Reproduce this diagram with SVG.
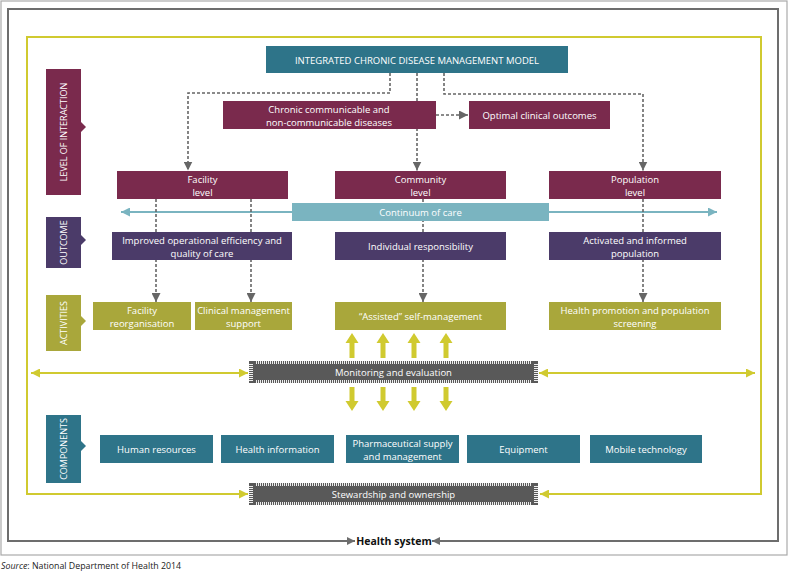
<svg xmlns="http://www.w3.org/2000/svg" width="788" height="572" viewBox="0 0 788 572">
<defs>
<style>
.t{font-family:"Open Sans","Liberation Sans",sans-serif;font-size:9.5px;fill:#fff;text-anchor:middle}
.tt{font-family:"Open Sans","Liberation Sans",sans-serif;font-size:9.5px;fill:#fff;text-anchor:middle}
.vt{font-family:"Open Sans","Liberation Sans",sans-serif;font-size:9px;fill:#fff;text-anchor:middle}
.mar{fill:#7a2a4d}
.pur{fill:#4b3b69}
.oli{fill:#a9a73b}
.tea{fill:#2e7489}
.dash{fill:none;stroke:#666;stroke-width:1.6;stroke-dasharray:3,2}
.yl{fill:none;stroke:#d0ca30;stroke-width:2}
.ya{fill:#d0ca30}
.bar{fill:#595959}
</style>
<marker id="agd" viewBox="0 0 10 10" refX="10" refY="5" markerWidth="9" markerHeight="9" markerUnits="userSpaceOnUse" orient="auto-start-reverse"><path d="M0,0 L10,5 L0,10 Z" fill="#666"/></marker>
<marker id="ac" viewBox="0 0 10 10" refX="10" refY="5" markerWidth="9" markerHeight="9" markerUnits="userSpaceOnUse" orient="auto-start-reverse"><path d="M0,0 L10,5 L0,10 Z" fill="#7ab4c0"/></marker>
<marker id="ay" viewBox="0 0 10 10" refX="10" refY="5" markerWidth="9" markerHeight="9" markerUnits="userSpaceOnUse" orient="auto-start-reverse"><path d="M0,0 L10,5 L0,10 Z" fill="#d0ca30"/></marker>
<marker id="ah" viewBox="0 0 10 10" refX="10" refY="5" markerWidth="8" markerHeight="8" markerUnits="userSpaceOnUse" orient="auto-start-reverse"><path d="M0,0 L10,5 L0,10 Z" fill="#6d6d6d"/></marker>
<pattern id="vtk" x="0" y="0" width="2" height="4" patternUnits="userSpaceOnUse"><rect x="0" y="0" width="1" height="4" fill="#eee"/></pattern>
<pattern id="htk" x="0" y="0" width="4" height="2" patternUnits="userSpaceOnUse"><rect x="0" y="0" width="4" height="1" fill="#eee"/></pattern>
</defs>
<rect x="0" y="0" width="788" height="572" fill="#fff"/>
<rect x="1" y="1" width="786" height="554" fill="none" stroke="#aaa" stroke-width="1.2"/>

<g id="connectors">
<path d="M355,541 H8 V9 H778 V541 H432" fill="none" stroke="#6d6d6d" stroke-width="2" marker-start="url(#ah)" marker-end="url(#ah)"/>
<path class="yl" d="M248,494 H27 V37 H761 V494 H540" marker-start="url(#ay)" marker-end="url(#ay)"/>
<path class="yl" d="M31,373 H248" marker-start="url(#ay)" marker-end="url(#ay)"/>
<path class="yl" d="M539,373 H755" marker-start="url(#ay)" marker-end="url(#ay)"/>
<path d="M121,212 H717" fill="none" stroke="#7ab4c0" stroke-width="1.8" marker-start="url(#ac)" marker-end="url(#ac)"/>
<path class="dash" d="M390,73 V93 H188 V170.5" marker-end="url(#agd)"/>
<path class="dash" d="M417,73 V170.5" marker-end="url(#agd)"/>
<path class="dash" d="M444,73 V94 H643 V170.5" marker-end="url(#agd)"/>
<path class="dash" d="M436,115 H468" marker-end="url(#agd)"/>
<path class="dash" d="M156,199 V302" marker-end="url(#agd)"/>
<path class="dash" d="M251,199 V302" marker-end="url(#agd)"/>
<path class="dash" d="M423,199 V302" marker-end="url(#agd)"/>
<path class="dash" d="M643,199 V302" marker-end="url(#agd)"/>
<g class="ya">
<path d="M352,333 L358.5,343 L354.5,343 L354.5,358 L349.5,358 L349.5,343 L345.5,343 Z"/>
<path d="M383,333 L389.5,343 L385.5,343 L385.5,358 L380.5,358 L380.5,343 L376.5,343 Z"/>
<path d="M414,333 L420.5,343 L416.5,343 L416.5,358 L411.5,358 L411.5,343 L407.5,343 Z"/>
<path d="M446,333 L452.5,343 L448.5,343 L448.5,358 L443.5,358 L443.5,343 L439.5,343 Z"/>
<path d="M352,411 L358.5,401 L354.5,401 L354.5,387 L349.5,387 L349.5,401 L345.5,401 Z"/>
<path d="M383,411 L389.5,401 L385.5,401 L385.5,387 L380.5,387 L380.5,401 L376.5,401 Z"/>
<path d="M414,411 L420.5,401 L416.5,401 L416.5,387 L411.5,387 L411.5,401 L407.5,401 Z"/>
<path d="M446,411 L452.5,401 L448.5,401 L448.5,387 L443.5,387 L443.5,401 L439.5,401 Z"/>
</g>
</g>

<g id="label-level">
<rect class="mar" x="46" y="69" width="35" height="126"/>
<path class="mar" d="M81,122 L86,127 L81,132 Z"/>
<text class="vt" font-size="8.5" transform="translate(66.5,132) rotate(-90)">LEVEL OF INTERACTION</text>
</g>
<g id="label-outcome">
<rect class="pur" x="46" y="217" width="35" height="51"/>
<path class="pur" d="M81,235 L86,240 L81,245 Z"/>
<text class="vt" transform="translate(66.5,242.5) rotate(-90)">OUTCOME</text>
</g>
<g id="label-activities">
<rect class="oli" x="46" y="295" width="35" height="56"/>
<path class="oli" d="M81,316 L86,321 L81,326 Z"/>
<text class="vt" transform="translate(66.5,323) rotate(-90)">ACTIVITIES</text>
</g>
<g id="label-components">
<rect class="tea" x="46" y="415" width="35" height="68"/>
<path class="tea" d="M81,441 L86,446 L81,451 Z"/>
<text class="vt" transform="translate(66.5,449) rotate(-90)">COMPONENTS</text>
</g>

<g id="title">
<rect class="tea" x="266" y="46" width="302" height="27"/>
<text class="tt" x="417" y="63.5">INTEGRATED CHRONIC DISEASE MANAGEMENT MODEL</text>
</g>
<g id="chronic">
<rect class="mar" x="223" y="101" width="213" height="28"/>
<text class="t" x="329" y="112.5">Chronic communicable and</text>
<text class="t" x="329" y="125.5">non-communicable diseases</text>
</g>
<g id="optimal">
<rect class="mar" x="469" y="101" width="141" height="28"/>
<text class="t" x="539.5" y="118.5">Optimal clinical outcomes</text>
</g>
<g id="facility-level">
<rect class="mar" x="117" y="171" width="171" height="28"/>
<text class="t" x="202.5" y="182.5">Facility</text>
<text class="t" x="202.5" y="195.5">level</text>
</g>
<g id="community-level">
<rect class="mar" x="335" y="171" width="171" height="28"/>
<text class="t" x="420.5" y="182.5">Community</text>
<text class="t" x="420.5" y="195.5">level</text>
</g>
<g id="population-level">
<rect class="mar" x="549" y="171" width="172" height="28"/>
<text class="t" x="635" y="182.5">Population</text>
<text class="t" x="635" y="195.5">level</text>
</g>
<g id="continuum">
<rect x="292" y="203" width="257" height="18" fill="#7ab4c0"/>
<text class="tt" x="420.5" y="215.5">Continuum of care</text>
</g>
<g id="outcome-improved">
<rect class="pur" x="112" y="232" width="180" height="28"/>
<text class="t" x="202" y="243.5">Improved operational efficiency and</text>
<text class="t" x="202" y="256.5">quality of care</text>
</g>
<g id="outcome-individual">
<rect class="pur" x="335" y="232" width="171" height="28"/>
<text class="t" x="420.5" y="249.5">Individual responsibility</text>
</g>
<g id="outcome-activated">
<rect class="pur" x="549" y="232" width="172" height="28"/>
<text class="t" x="635" y="243.5">Activated and informed</text>
<text class="t" x="635" y="256.5">population</text>
</g>
<g id="act-facility">
<rect class="oli" x="93" y="302" width="98" height="28"/>
<text class="t" x="142" y="313.5">Facility</text>
<text class="t" x="142" y="326.5">reorganisation</text>
</g>
<g id="act-clinical">
<rect class="oli" x="195" y="302" width="97" height="28"/>
<text class="t" x="243.5" y="313.5">Clinical management</text>
<text class="t" x="243.5" y="326.5">support</text>
</g>
<g id="act-assisted">
<rect class="oli" x="335" y="302" width="171" height="28"/>
<text class="t" x="420.5" y="319.5">“Assisted” self-management</text>
</g>
<g id="act-health">
<rect class="oli" x="549" y="302" width="172" height="28"/>
<text class="t" x="635" y="313.5">Health promotion and population</text>
<text class="t" x="635" y="326.5">screening</text>
</g>

<g id="monitoring">
<rect class="bar" x="249" y="361" width="289" height="22"/>
<rect x="255" y="361" width="277" height="3" fill="url(#vtk)"/>
<rect x="255" y="380" width="277" height="3" fill="url(#vtk)"/>
<rect x="249" y="363" width="4" height="18" fill="url(#htk)"/>
<rect x="534" y="363" width="4" height="18" fill="url(#htk)"/>
<text class="tt" x="393.5" y="375.5">Monitoring and evaluation</text>
</g>

<g id="comp-human">
<rect class="tea" x="100" y="435" width="113" height="28"/>
<text class="t" x="156.5" y="452.5">Human resources</text>
</g>
<g id="comp-info">
<rect class="tea" x="221" y="435" width="113" height="28"/>
<text class="t" x="277.5" y="452.5">Health information</text>
</g>
<g id="comp-pharma">
<rect class="tea" x="346" y="435" width="113" height="28"/>
<text class="t" x="402.5" y="446.5">Pharmaceutical supply</text>
<text class="t" x="402.5" y="459.5">and management</text>
</g>
<g id="comp-equipment">
<rect class="tea" x="467" y="435" width="113" height="28"/>
<text class="t" x="523.5" y="452.5">Equipment</text>
</g>
<g id="comp-mobile">
<rect class="tea" x="590" y="435" width="112" height="28"/>
<text class="t" x="646" y="452.5">Mobile technology</text>
</g>

<g id="stewardship">
<rect class="bar" x="249" y="483" width="289" height="22"/>
<rect x="255" y="483" width="277" height="3" fill="url(#vtk)"/>
<rect x="255" y="502" width="277" height="3" fill="url(#vtk)"/>
<rect x="249" y="485" width="4" height="18" fill="url(#htk)"/>
<rect x="534" y="485" width="4" height="18" fill="url(#htk)"/>
<text class="tt" x="393.5" y="497.5">Stewardship and ownership</text>
</g>

<g id="health-system">
<text x="394" y="545" font-family="'Open Sans','Liberation Sans',sans-serif" font-size="10.5" font-weight="bold" fill="#111" text-anchor="middle">Health system</text>
</g>
<text x="1" y="569" font-family="'Open Sans','Liberation Sans',sans-serif" font-size="8.8" fill="#222"><tspan font-style="italic">Source</tspan>: National Department of Health 2014</text>
</svg>
